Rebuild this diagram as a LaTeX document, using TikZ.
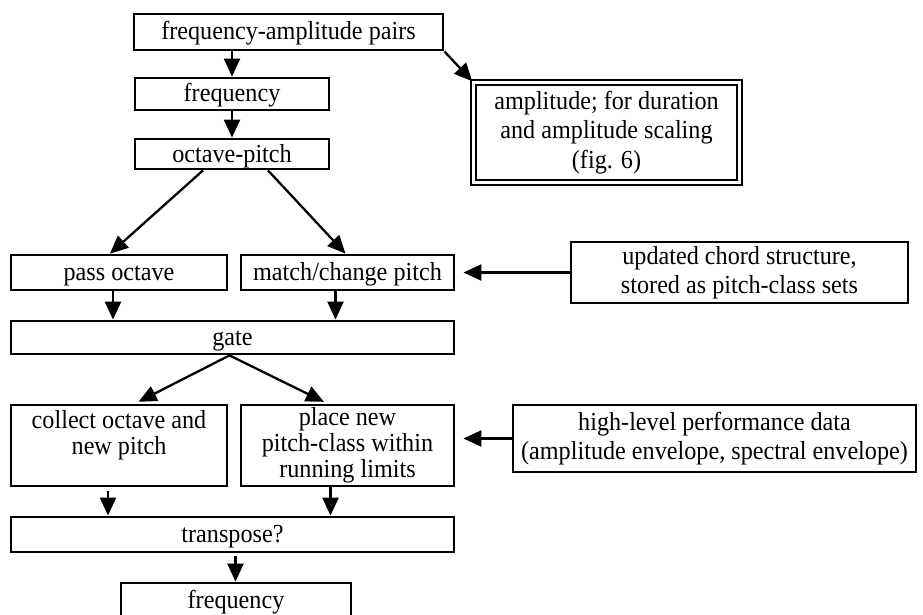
\documentclass[tikz,border=0pt]{standalone}
\usepackage{fontspec}
\setmainfont[FakeStretch=0.93]{Liberation Serif}
\usetikzlibrary{arrows.meta}

\begin{document}
\begin{tikzpicture}[x=1pt,y=-1pt,
    box/.style={draw,line width=2.8pt,inner sep=0pt,align=center,
        font=\fontsize{26}{29.5}\selectfont},
    oneline/.style={box,text height=19pt,text depth=3pt},
    tight/.style={box,font=\fontsize{26}{26}\selectfont},
    arr/.style={line width=2.3pt,-{Triangle[length=18pt,width=16pt]}}]

\useasboundingbox (0,0) rectangle (923,615);

\def\bx#1#2#3#4#5#6{\node[oneline,minimum width=#4,minimum height=#5] (#1) at (#2,#3) {#6};}

\bx{fapairs}{288.5}{32}{309}{36}{frequency-amplitude pairs}
\bx{freqA}{232}{94}{194}{32}{frequency}
\bx{octpitch}{232}{154}{194}{30}{octave-pitch}
\node[box,double,line width=2.4pt,double distance=2.6pt,minimum width=266,minimum height=100]
    (ampl) at (606.5,132.5) {amplitude; for duration\\and amplitude scaling\\(fig. 6)};
\bx{passoct}{119}{272.5}{216}{35}{pass octave}
\bx{matchpitch}{347.5}{272.5}{213}{35}{match/change pitch}
\node[box,minimum width=337,minimum height=61] (chords) at (739.5,272.5)
    {updated chord structure,\\stored as pitch-class sets};
\bx{gate}{232.5}{337.5}{443}{33}{gate}
\node[tight,minimum width=216,minimum height=81] (collect) at (119,445.5)
    {collect octave and\\new pitch\\~};
\node[tight,minimum width=213,minimum height=81] (place) at (347.5,445.5)
    {place new\\pitch-class within\\running limits};
\node[box,minimum width=403,minimum height=67] (perfdata) at (714.5,438.5)
    {high-level performance data\\(amplitude envelope, spectral envelope)};
\bx{transp}{232.5}{534.5}{443}{35}{transpose?}
\bx{freqB}{236}{600}{230}{34}{frequency}

% top chain
\draw[arr] (freqA.north |- fapairs.south) -- (freqA.north);
\draw[arr] (freqA.south) -- (octpitch.north);
\draw[arr] (fapairs.south east) -- (ampl.north west);

% split by octave and pitch
\draw[arr] ([xshift=-29pt]octpitch.south) -- ([xshift=-9pt]passoct.north);
\draw[arr] ([xshift=36pt]octpitch.south) -- ([xshift=-2pt]matchpitch.north);
\draw[arr] (chords.west) -- ([xshift=8pt]matchpitch.east);
\draw[arr] ([xshift=-6pt]passoct.south) -- ([xshift=-6pt]passoct.south |- gate.north);
\draw[arr] ([xshift=-12pt]matchpitch.south) -- ([xshift=-12pt]matchpitch.south |- gate.north);

% after the gate
\draw[arr,shorten >=4pt] ([xshift=-3pt]gate.south) -- ([xshift=16pt]collect.north);
\draw[arr,shorten >=4pt] ([xshift=-3pt]gate.south) -- ([xshift=-20pt]place.north);
\draw[arr,shorten >=8pt] (perfdata.west) -- (perfdata.west -| place.east);
\draw[arr,shorten <=4pt] ([xshift=-11pt]collect.south) -- ([xshift=-11pt]collect.south |- transp.north);
\draw[arr] ([xshift=-17pt]place.south) -- ([xshift=-17pt]place.south |- transp.north);
\draw[arr,shorten <=3pt] ([xshift=3pt]transp.south) -- ([xshift=3pt]transp.south |- freqB.north);

\end{tikzpicture}
\end{document}
